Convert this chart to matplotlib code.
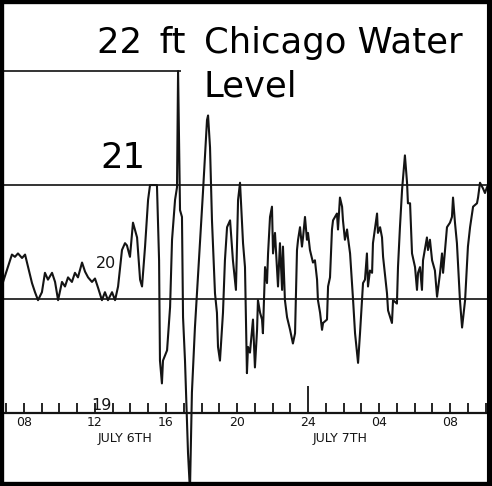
import numpy as np
import matplotlib
matplotlib.use("Agg")
import matplotlib.pyplot as plt

# hours since midnight July 6th, water level in feet
hours = [6.82, 7.32, 7.49, 7.66, 7.89, 8.06, 8.23, 8.45, 8.62, 8.79, 9.01, 9.18,
         9.35, 9.58, 9.75, 9.92, 10.14, 10.31, 10.48, 10.70, 10.87, 11.04, 11.27,
         11.44, 11.61, 11.83, 12.00, 12.17, 12.39, 12.56, 12.73, 12.96, 13.13,
         13.30, 13.52, 13.69, 13.80, 13.97, 14.14, 14.37, 14.54, 14.65, 14.82,
         14.99, 15.10, 15.49, 15.61, 15.66, 15.77, 15.83, 16.06, 16.23, 16.34,
         16.51, 16.62, 16.68, 16.79, 16.90, 16.96, 17.07, 17.24, 17.35, 17.46,
         17.63, 17.80, 18.08, 18.31, 18.37, 18.48, 18.59, 18.76, 18.87, 18.93,
         19.04, 19.21, 19.32, 19.44, 19.61, 19.77, 19.94, 20.06, 20.17, 20.28,
         20.34, 20.45, 20.56, 20.62, 20.73, 20.90, 21.01, 21.13, 21.18, 21.30,
         21.41, 21.46, 21.58, 21.69, 21.75, 21.86, 21.97, 22.03, 22.14, 22.25,
         22.31, 22.42, 22.54, 22.59, 22.70, 22.82, 22.99, 23.15, 23.27, 23.38,
         23.44, 23.55, 23.66, 23.72, 23.83, 23.94, 24.00, 24.11, 24.28, 24.39,
         24.51, 24.56, 24.68, 24.79, 24.85, 25.07, 25.13, 25.24, 25.35, 25.41,
         25.63, 25.69, 25.80, 25.92, 25.97, 26.08, 26.20, 26.25, 26.37, 26.54,
         26.65, 26.82, 26.93, 27.10, 27.21, 27.32, 27.38, 27.49, 27.61, 27.66,
         27.89, 27.94, 28.06, 28.17, 28.23, 28.45, 28.51, 28.73, 28.79, 29.01,
         29.07, 29.18, 29.30, 29.46, 29.58, 29.63, 29.75, 29.86, 30.03, 30.14,
         30.20, 30.31, 30.42, 30.48, 30.70, 30.76, 30.87, 30.99, 31.15, 31.27,
         31.44, 31.55, 31.61, 31.83, 32.00, 32.11, 32.17, 32.28, 32.39, 32.56,
         32.68, 32.85, 33.01, 33.13, 33.30, 33.52, 33.58, 33.69, 33.86, 33.97,
         34.08]
level = [20.15, 20.39, 20.37, 20.40, 20.36, 20.39, 20.28, 20.14, 20.06, 19.99, 20.06, 20.23,
         20.17, 20.23, 20.15, 19.99, 20.15, 20.11, 20.19, 20.15, 20.23, 20.19, 20.32,
         20.24, 20.19, 20.15, 20.18, 20.10, 19.99, 20.06, 19.99, 20.06, 19.99,
         20.11, 20.43, 20.49, 20.47, 20.37, 20.67, 20.54, 20.17, 20.11, 20.46,
         20.87, 21.00, 21.00, 20.34, 19.46, 19.26, 19.46, 19.55, 19.93, 20.52,
         20.87, 20.98, 22.00, 20.78, 20.72, 19.84, 19.46, 18.65, 18.32, 19.18,
         19.75, 20.19, 20.93, 21.57, 21.61, 21.33, 20.69, 20.05, 19.88, 19.58,
         19.46, 19.88, 20.34, 20.63, 20.69, 20.34, 20.08, 20.87, 21.02, 20.67,
         20.49, 20.28, 19.35, 19.58, 19.53, 19.82, 19.40, 19.73, 19.99, 19.88,
         19.82, 19.70, 20.28, 20.14, 20.40, 20.72, 20.81, 20.40, 20.58, 20.28,
         20.11, 20.49, 20.08, 20.46, 19.99, 19.84, 19.73, 19.61, 19.70, 20.43,
         20.52, 20.63, 20.46, 20.54, 20.72, 20.52, 20.58, 20.43, 20.32, 20.34,
         20.17, 19.99, 19.88, 19.73, 19.79, 19.82, 20.11, 20.19, 20.61, 20.69,
         20.75, 20.61, 20.89, 20.81, 20.69, 20.52, 20.61, 20.54, 20.40, 19.99,
         19.70, 19.44, 19.70, 20.14, 20.17, 20.40, 20.11, 20.25, 20.23, 20.49,
         20.75, 20.58, 20.63, 20.54, 20.37, 20.05, 19.90, 19.79, 19.99, 19.96,
         20.28, 20.63, 20.96, 21.26, 21.02, 20.84, 20.84, 20.40, 20.28, 20.08,
         20.23, 20.28, 20.08, 20.34, 20.54, 20.43, 20.52, 20.34, 20.25, 20.02,
         20.23, 20.40, 20.23, 20.63, 20.67, 20.72, 20.89, 20.67, 20.49, 19.99,
         19.75, 19.99, 20.46, 20.63, 20.81, 20.84, 20.89, 21.02, 20.97, 20.93,
         20.98]

tick_hours = [8, 12, 16, 20, 24, 28, 32]
tick_labels = ["08", "12", "16", "20", "24", "04", "08"]
day_labels = ["JULY 6TH", "JULY 7TH"]
day_centers = [13.7, 25.8]

x0, x1 = 6.648, 34.366
y0, y1 = 18.36, 22.623
ink = "#141414"
small_font = ["Liberation Sans Narrow", "DejaVu Sans"]

fig = plt.figure(figsize=(4.92, 4.86), dpi=100)
ax = fig.add_axes([0, 0, 1, 1])
ax.set_xlim(x0, x1)
ax.set_ylim(y0, y1)
ax.set_xticks([])
ax.set_yticks([])
for side, s in ax.spines.items():
    s.set_linewidth(8 if side == "right" else 6)
    s.set_color("black")
    s.set_zorder(5)

# reference lines of the recorder paper
ax.hlines(22, x0, 16.85, color="#333333", lw=1.4)
ax.hlines([21, 20], x0, x1, color="#333333", lw=1.4)
ax.hlines(19, x0, x1, color=ink, lw=1.6)

# hourly ticks, the midnight one taller
for h in range(7, 35):
    top = 19.24 if h == 24 else 19.09
    ax.vlines(h, 19, top, color=ink, lw=1.3)

ax.plot(hours, level, color=ink, lw=1.5, zorder=3)

for h, lab in zip(tick_hours, tick_labels):
    ax.text(h, 18.92, lab, ha="center", va="center", fontsize=9,
            family=small_font, color=ink)
for c, lab in zip(day_centers, day_labels):
    ax.text(c, 18.78, lab, ha="center", va="center", fontsize=9,
            family=small_font, color=ink)
ax.text(12.62, 20.31, "20", ha="center", va="center", fontsize=11.5,
        family=small_font, color=ink)
ax.text(12.37, 19.07, "19", ha="center", va="center", fontsize=11.5,
        family=small_font, color=ink)

# big labels
ax.text(12.11, 22.16, "22\u2002ft", ha="left", va="baseline", fontsize=25.5,
        family="DejaVu Sans", color="black")
ax.text(12.3, 21.15, "21", ha="left", va="baseline", fontsize=25.5,
        family="DejaVu Sans", color="black")
ax.text(18.14, 22.16, "Chicago Water", ha="left", va="baseline",
        fontsize=25.5, family="DejaVu Sans", color="black")
ax.text(18.14, 21.775, "Level", ha="left", va="baseline",
        fontsize=25.5, family="DejaVu Sans", color="black")

fig.savefig("out.png", dpi=100)
